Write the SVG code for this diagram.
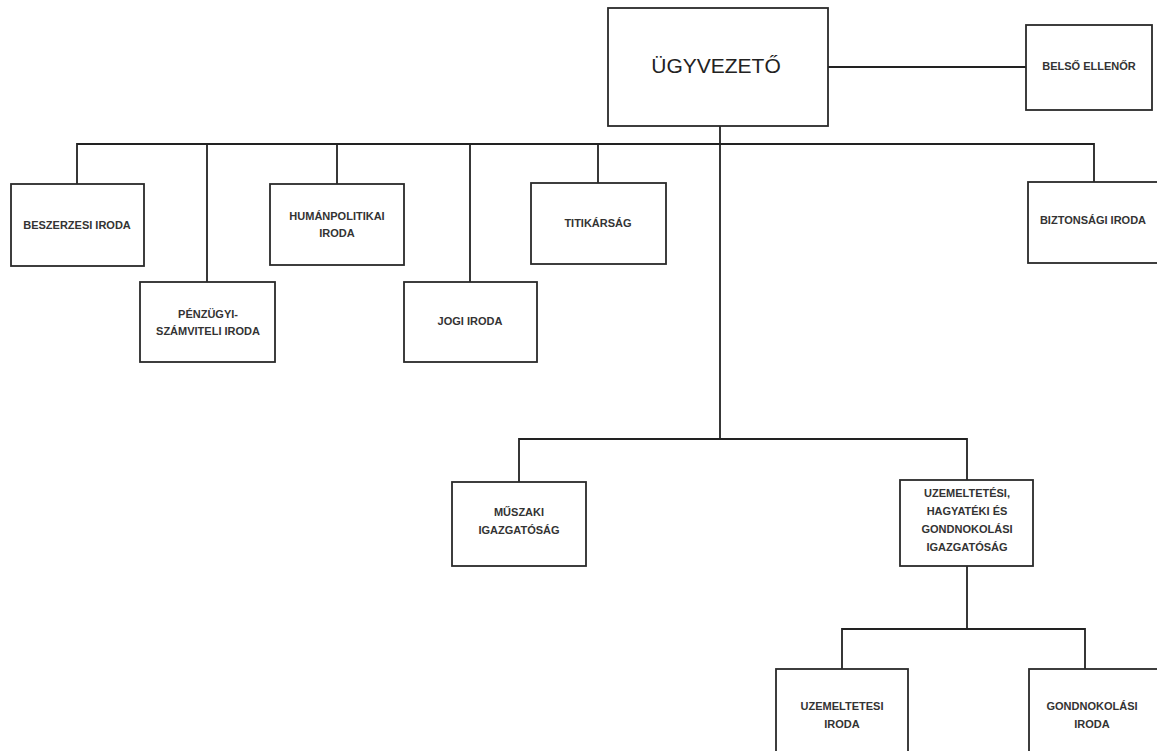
<svg xmlns="http://www.w3.org/2000/svg" width="1157" height="751" viewBox="0 0 1157 751">
<style>
.box{fill:#fff;stroke:#2a2a2a;stroke-width:1.8}
.t{font-family:"Liberation Sans",Arial,sans-serif;font-size:11px;font-weight:bold;fill:#333;text-anchor:middle;dominant-baseline:middle}
.big{font-family:"Liberation Sans",Arial,sans-serif;font-size:21px;fill:#222;text-anchor:middle;dominant-baseline:middle}
.c{fill:none;stroke:#222;stroke-width:1.8}
</style>
<rect width="1157" height="751" fill="#fff"/>
<g id="connectors">
<path class="c" d="M828 67H1026"/>
<path class="c" d="M720 126V439"/>
<path class="c" d="M77 184V144H1094V182"/>
<path class="c" d="M207 144V282"/>
<path class="c" d="M337 144V184"/>
<path class="c" d="M470 144V282"/>
<path class="c" d="M598 144V183"/>
<path class="c" d="M519 482V439H967V480"/>
<path class="c" d="M967 566V629"/>
<path class="c" d="M842 669V629H1085V669"/>
</g>
<g id="ugyvezeto"><rect class="box" x="608" y="8" width="220" height="118"/><text class="big" x="716" y="67">ÜGYVEZETŐ</text></g>
<g id="belso-ellenor"><rect class="box" x="1026" y="25" width="126" height="85"/><text class="t" x="1089" y="67">BELSŐ ELLENŐR</text></g>
<g id="beszerzesi"><rect class="box" x="11" y="184" width="133" height="82"/><text class="t" x="77" y="226">BESZERZESI IRODA</text></g>
<g id="penzugyi"><rect class="box" x="140" y="282" width="135" height="80"/><text class="t" x="208" y="315">PÉNZÜGYI-</text><text class="t" x="208" y="332">SZÁMVITELI IRODA</text></g>
<g id="humanpolitikai"><rect class="box" x="270" y="184" width="134" height="81"/><text class="t" x="337" y="217">HUMÁNPOLITIKAI</text><text class="t" x="337" y="234">IRODA</text></g>
<g id="jogi"><rect class="box" x="404" y="282" width="133" height="80"/><text class="t" x="470" y="322">JOGI IRODA</text></g>
<g id="titkarsag"><rect class="box" x="531" y="183" width="135" height="81"/><text class="t" x="598" y="224">TITIKÁRSÁG</text></g>
<g id="biztonsagi"><rect class="box" x="1028" y="182" width="130" height="81"/><text class="t" x="1093" y="221">BIZTONSÁGI IRODA</text></g>
<g id="muszaki"><rect class="box" x="452" y="482" width="134" height="84"/><text class="t" x="519" y="513">MŰSZAKI</text><text class="t" x="519" y="531">IGAZGATÓSÁG</text></g>
<g id="uhg"><rect class="box" x="900" y="480" width="133" height="86"/><text class="t" x="967" y="494">UZEMELTETÉSI,</text><text class="t" x="967" y="512">HAGYATÉKI ÉS</text><text class="t" x="967" y="530">GONDNOKOLÁSI</text><text class="t" x="967" y="548">IGAZGATÓSÁG</text></g>
<g id="uzemeltetesi-iroda"><rect class="box" x="776" y="669" width="132" height="90"/><text class="t" x="842" y="707">UZEMELTETESI</text><text class="t" x="842" y="725">IRODA</text></g>
<g id="gondnokolasi-iroda"><rect class="box" x="1029" y="669" width="130" height="90"/><text class="t" x="1092" y="707">GONDNOKOLÁSI</text><text class="t" x="1092" y="725">IRODA</text></g>
</svg>
